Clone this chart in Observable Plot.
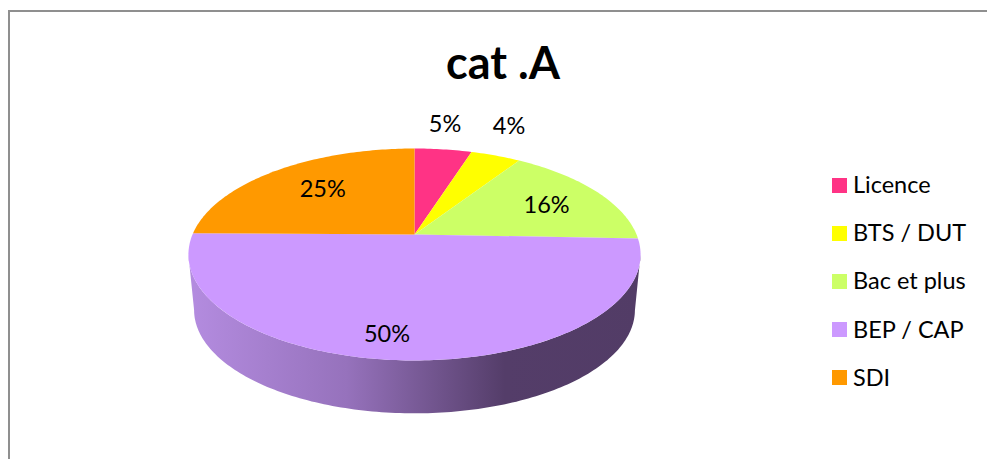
<!DOCTYPE html>
<html lang="fr">
<head>
<meta charset="utf-8">
<script src="https://cdn.jsdelivr.net/npm/d3@7"></script>
<script src="https://cdn.jsdelivr.net/npm/@observablehq/plot@0.6"></script>
<style>
  html, body { margin: 0; padding: 0; background: #fff; overflow: hidden; }
  #page { position: relative; width: 987px; height: 459px; overflow: hidden; font-family: Lato, "Open Sans", sans-serif; color: #000; }
  #frame { position: absolute; left: 8px; top: 10px; width: 1000px; height: 480px; border: 2px solid #8f8f8f; }
  #title { position: absolute; left: 0; top: 35px; width: 1006px; text-align: center; font-size: 45px; font-weight: 700; line-height: 54px; }
  #chart { position: absolute; left: 0; top: 0; }
  #chart svg { display: block; background: none; }
  #legend { position: absolute; left: 832px; top: 161px; }
  .item { display: flex; align-items: center; height: 48.2px; font-size: 23.5px; white-space: nowrap; }
  .item span:last-child { position: relative; top: -1px; left: -1px; }
  .swatch { width: 15px; height: 15px; margin-right: 7px; flex: none; }
</style>
</head>
<body>
<div id="page">
  <div id="frame"></div>
  <div id="title"></div>
  <div id="chart"></div>
  <div id="legend"></div>
</div>
<script>
const chartTitle = "cat .A";
const categories = ["Licence", "BTS / DUT", "Bac et plus", "BEP / CAP", "SDI"];
const shares = [4.9, 4.3, 16.4, 49.6, 24.8];
const colors = ["#FF3385", "#FFFF00", "#CCFF66", "#CC99FF", "#FF9900"];

// Perspective view of the tilted disc
const view = {cx: 414, cy: 234, rx: 222, ry: 102.2, k: 0.1887, depth: 56, shrink: 0.975};
function project(deg, r = 1) {
  const t = deg * Math.PI / 180;
  const u = r * Math.sin(t), v = -r * Math.cos(t), d = 1 - view.k * v;
  return {x: view.cx + view.rx * u / d, y: view.cy + view.ry * v / d};
}
function lower(deg) {
  const p = project(deg);
  return {x: view.cx + view.shrink * (p.x - view.cx), y: view.cy + view.shrink * (p.y - view.cy) + view.depth};
}

// Slices are built from the shares
let cumulative = 0;
const slices = categories.map((name, i) => {
  const start = cumulative * 3.6;
  cumulative += shares[i];
  return {name, share: shares[i], start, end: cumulative * 3.6};
});
const slicePoints = slices.flatMap(({name, start, end}) => {
  const pts = [{name, x: view.cx, y: view.cy}];
  const n = Math.max(2, Math.ceil(end - start));
  for (let j = 0; j <= n; ++j) pts.push({name, ...project(start + (end - start) * j / n)});
  return pts;
});

// Visible front wall, between the left and right silhouette of the disc
const rightEdge = 90 + Math.asin(view.k) * 180 / Math.PI;
const leftEdge = 360 - rightEdge;
const wallPoints = [
  ...d3.range(rightEdge, leftEdge + 0.5, 1).map(d => project(d)),
  ...d3.range(leftEdge, rightEdge - 0.5, -1).map(d => lower(d))
];

// Label position: point in the slice, nudged as in the original chart
const labelNudge = {
  "Licence": [9.5, -47],
  "BTS / DUT": [35, -50],
  "Bac et plus": [2, 2],
  "BEP / CAP": [-23, 18],
  "SDI": [8, 1.5]
};
const labels = slices.map(s => {
  const p = project((s.start + s.end) / 2, 0.7);
  const [dx, dy] = labelNudge[s.name];
  return {x: p.x + dx, y: p.y + dy, text: `${Math.round(s.share)}%`};
});

const chart = Plot.plot({
  width: 987,
  height: 459,
  margin: 0,
  x: {axis: null, domain: [0, 987], range: [0, 987]},
  y: {axis: null, domain: [0, 459], range: [0, 459]},
  color: {domain: categories, range: colors},
  style: {background: "none"},
  marks: [
    Plot.line(wallPoints, {x: "x", y: "y", fill: "url(#wallShade)", stroke: "none"}),
    Plot.line(slicePoints, {x: "x", y: "y", z: "name", fill: "name", stroke: "none"}),
    Plot.text(labels, {x: "x", y: "y", text: "text", fontSize: 23.5, fontFamily: "Lato, 'Open Sans', sans-serif", fill: "#000"})
  ]
});

const gradient = d3.select(chart).insert("defs", ":first-child")
  .append("linearGradient").attr("id", "wallShade")
  .attr("x1", "0%").attr("x2", "100%").attr("y1", "0%").attr("y2", "0%");
[["0%", "#B48CE0"], ["35%", "#9672BC"], ["70%", "#543D69"], ["100%", "#523C66"]].forEach(([o, c]) =>
  gradient.append("stop").attr("offset", o).attr("stop-color", c));

document.getElementById("chart").append(chart);
document.getElementById("title").textContent = chartTitle;
const legend = d3.select("#legend");
categories.forEach((name, i) => {
  const item = legend.append("div").attr("class", "item");
  item.append("span").attr("class", "swatch").style("background", colors[i]);
  item.append("span").text(name);
});
</script>
</body>
</html>
